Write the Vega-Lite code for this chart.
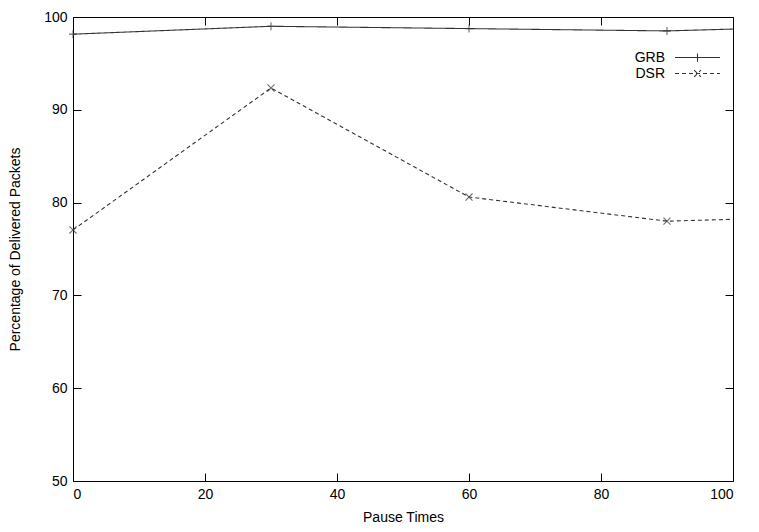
{
  "$schema": "https://vega.github.io/schema/vega-lite/v6.json",
  "width": 660,
  "height": 464,
  "autosize": {"type": "none"},
  "padding": {"left": 73, "top": 17, "right": 26, "bottom": 51},
  "background": "white",
  "config": {
    "font": "Liberation Sans",
    "view": {"stroke": "black", "strokeWidth": 1},
    "axis": {"domain": false, "grid": false, "tickColor": "black", "labelColor": "black", "titleColor": "black", "labelFontSize": 14, "titleFontSize": 14, "titleFontWeight": "normal", "tickSize": -8, "tickWidth": 1}
  },
  "data": {"values": [
    {"t": 0, "p": 98.15, "s": "GRB"},
    {"t": 30, "p": 99.0, "s": "GRB"},
    {"t": 60, "p": 98.75, "s": "GRB"},
    {"t": 90, "p": 98.5, "s": "GRB"},
    {"t": 100, "p": 98.7, "s": "GRB"},
    {"t": 0, "p": 77.05, "s": "DSR"},
    {"t": 30, "p": 92.35, "s": "DSR"},
    {"t": 60, "p": 80.6, "s": "DSR"},
    {"t": 90, "p": 78.0, "s": "DSR"},
    {"t": 100, "p": 78.2, "s": "DSR"}
  ]},
  "resolve": {"axis": {"x": "independent", "y": "independent"}},
  "layer": [
    {
      "mark": {"type": "line", "stroke": "#333", "strokeWidth": 1.1},
      "encoding": {
        "x": {"field": "t", "type": "quantitative", "scale": {"domain": [0, 100], "nice": false},
              "axis": {"values": [0, 20, 40, 60, 80, 100], "title": "Pause Times", "labelPadding": 14, "titlePadding": 9}},
        "y": {"field": "p", "type": "quantitative", "scale": {"domain": [50, 100], "nice": false, "zero": false},
              "axis": {"values": [50, 60, 70, 80, 90, 100], "title": "Percentage of Delivered Packets", "labelPadding": 14, "titlePadding": 21}},
        "strokeDash": {"field": "s", "type": "nominal",
          "scale": {"domain": ["GRB", "DSR"], "range": [[1, 0], [4, 3]]},
          "legend": {"title": null, "orient": "none", "legendX": 616, "legendY": 32, "symbolType": "M-3,0L3,0", "symbolSize": 225, "symbolStrokeColor": "#333", "symbolStrokeWidth": 1.1, "labelFontSize": 14, "labelColor": "black", "labelAlign": "right", "labelOffset": -41, "rowPadding": 0,
            "encode": {"symbols": {"update": {"shape": {"signal": "datum.value === 'GRB' ? 'M-3,0L3,0M0,-0.55L0,0.55' : 'M-3,0L3,0M-0.45,-0.45L0.45,0.45M-0.45,0.45L0.45,-0.45'"}}}}}}
      }
    },
    {
      "transform": [{"filter": "datum.t < 100 && datum.s === 'GRB'"}],
      "mark": {"type": "point", "filled": false, "stroke": "#333", "strokeWidth": 1.1, "size": 64, "shape": "M-1,0L1,0M0,-1L0,1"},
      "encoding": {
        "x": {"field": "t", "type": "quantitative", "axis": {"orient": "top", "values": [0, 20, 40, 60, 80, 100], "labels": false, "title": null}},
        "y": {"field": "p", "type": "quantitative", "axis": {"orient": "right", "values": [50, 60, 70, 80, 90, 100], "labels": false, "title": null}}
      }
    },
    {
      "transform": [{"filter": "datum.t < 100 && datum.s === 'DSR'"}],
      "mark": {"type": "point", "filled": false, "stroke": "#333", "strokeWidth": 1.1, "size": 50, "shape": "M-1,-1L1,1M-1,1L1,-1"},
      "encoding": {
        "x": {"field": "t", "type": "quantitative", "axis": null},
        "y": {"field": "p", "type": "quantitative", "axis": null}
      }
    }
  ]
}
